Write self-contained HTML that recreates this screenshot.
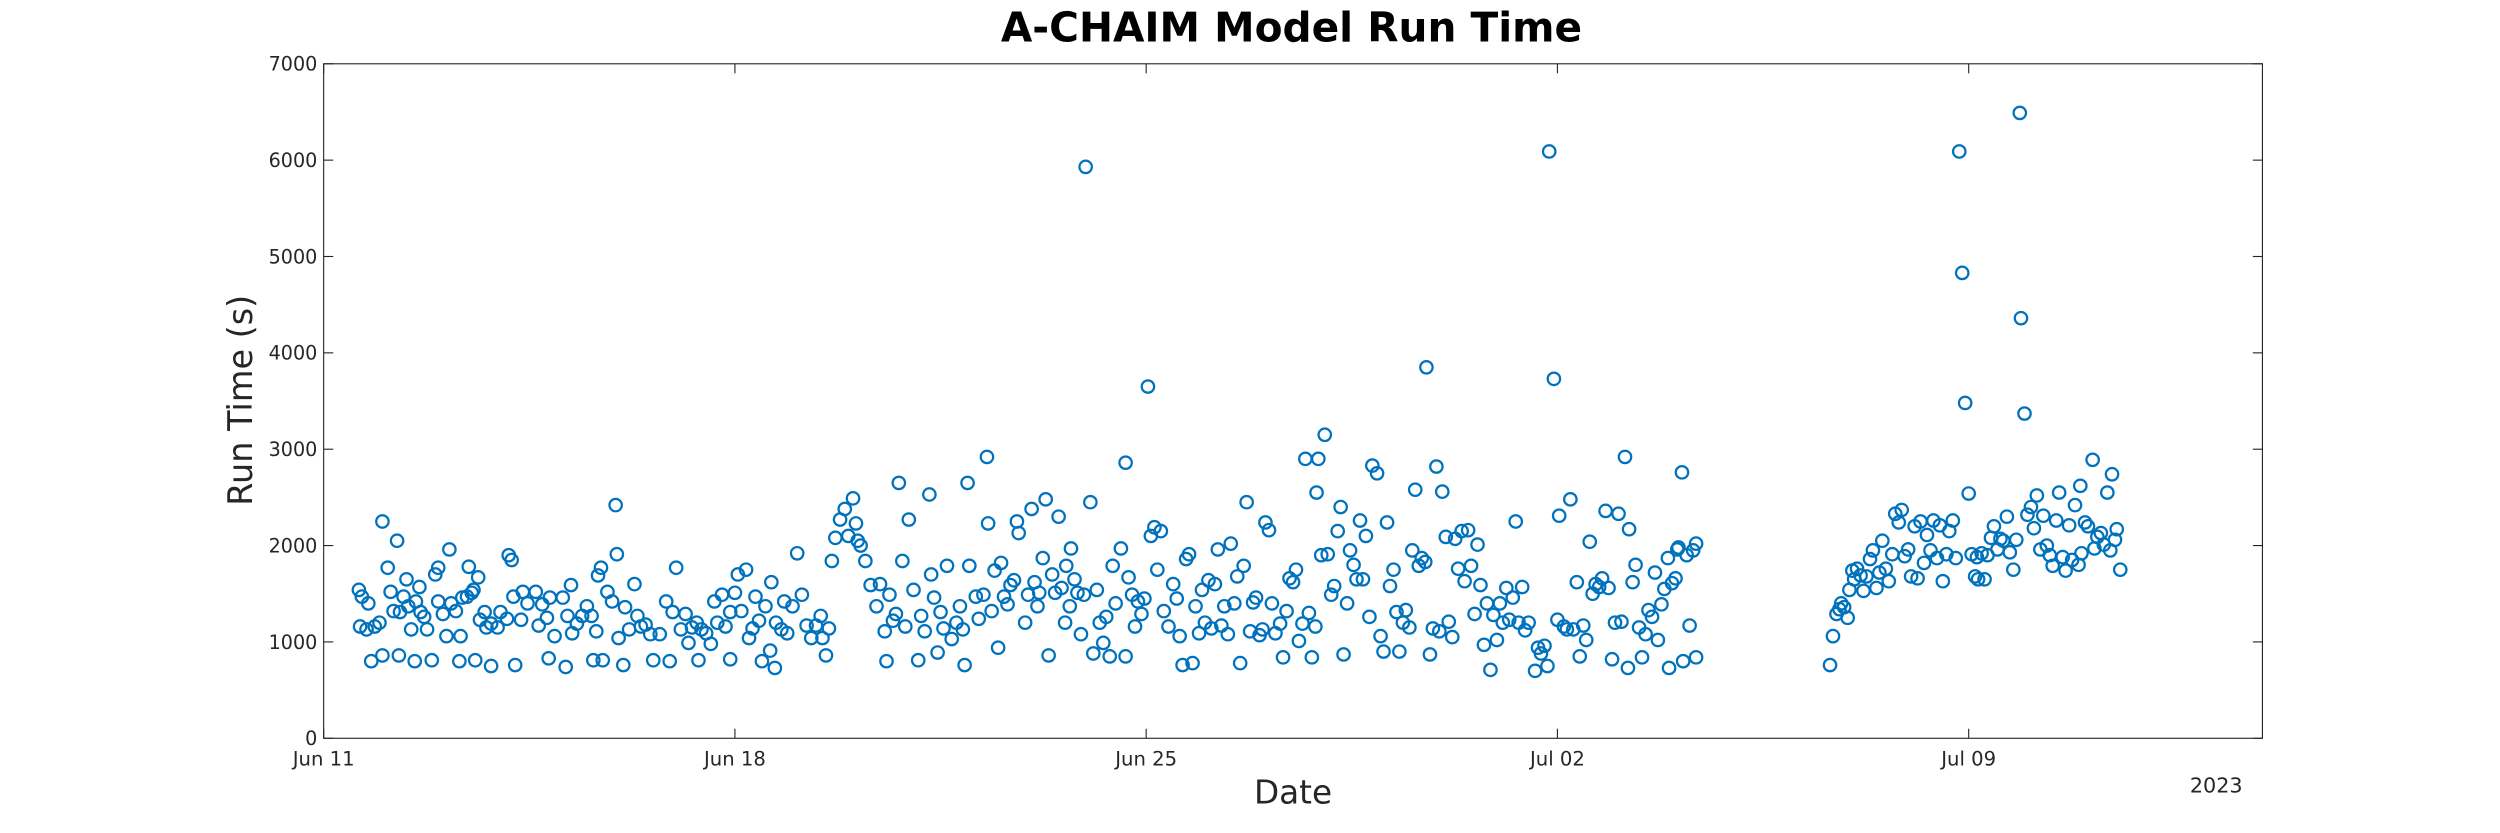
<!DOCTYPE html>
<html><head><meta charset="utf-8"><style>
html,body{margin:0;padding:0;background:#fff}
svg{display:block}
text{font-family:"DejaVu Sans","Liberation Sans",sans-serif;fill:#262626}
</style></head><body>
<svg id="chart" width="2500" height="833" viewBox="0 0 1568 522.4" preserveAspectRatio="none" xmlns="http://www.w3.org/2000/svg">
<rect x="0" y="0" width="1568" height="522.4" fill="#fff"/>
<text x="810" y="26" text-anchor="middle" font-size="25.5" font-weight="bold" style="fill:#000">A-CHAIM Model Run Time</text>
<g id="axes"></g>
<g id="marks"></g>
<text transform="translate(158,251) rotate(-90)" text-anchor="middle" font-size="21">Run Time (s)</text>
<text x="811" y="504" text-anchor="middle" font-size="20.5">Date</text>
<text x="1390" y="497" text-anchor="middle" font-size="13">2023</text>
</svg>
<script>
const xTickLabels = ["Jun 11","Jun 18","Jun 25","Jul 02","Jul 09"];
const xTickDays = [0,7,14,21,28];
const yTicks = [0,1000,2000,3000,4000,5000,6000,7000];
const runDay = [
0.60,0.65,0.76,0.62,0.73,0.87,0.95,0.81,1.00,1.00,1.09,1.25,1.14,1.19,1.30,1.36,1.41,1.28,1.44,1.49,
1.57,1.63,1.65,1.71,1.76,1.55,1.84,1.90,1.95,1.95,2.03,2.09,2.14,2.17,2.25,2.31,2.33,2.36,2.44,2.47,
2.52,2.55,2.58,2.63,2.66,2.74,2.77,2.85,2.85,2.96,3.01,3.12,3.15,3.20,3.23,3.26,3.36,3.39,3.47,3.61,
3.66,3.72,3.80,3.83,3.85,3.93,4.07,4.12,4.15,4.21,4.23,4.31,4.40,4.48,4.56,4.59,4.64,4.67,4.72,4.75,
4.83,4.91,4.97,4.99,5.02,5.10,5.13,5.20,5.29,5.34,5.40,5.48,5.56,5.61,5.72,5.83,5.89,5.94,6.00,6.08,
6.16,6.21,6.27,6.35,6.38,6.43,6.51,6.59,6.65,6.70,6.78,6.84,6.92,6.92,7.00,
7.05,7.11,7.19,7.24,7.30,7.35,7.41,7.46,7.52,7.60,7.62,7.68,7.70,7.79,7.84,7.89,7.98,8.06,8.14,8.22,
8.30,8.38,8.46,8.49,8.55,8.60,8.65,8.71,8.79,8.87,8.93,9.01,9.06,9.09,9.14,9.22,9.31,9.41,9.47,9.55,
9.58,9.63,9.69,9.74,9.79,9.85,9.90,9.96,10.04,10.12,10.17,10.23,10.31,10.34,10.39,10.45,10.50,10.55,10.61,10.69,
10.77,10.83,10.88,10.91,10.96,10.99,11.10,11.15,11.23,11.29,11.31,11.37,11.42,11.48,11.53,11.58,11.64,11.69,11.75,11.80,
11.83,11.94,11.99,12.05,12.10,12.15,12.18,12.24,12.29,12.34,12.40,12.45,12.51,12.56,12.62,12.64,12.70,12.72,12.78,12.83,
12.89,12.94,12.97,13.05,13.10,13.16,13.21,13.27,13.32,13.38,13.43,13.48,13.57,13.65,13.65,13.70,13.76,13.81,13.86,13.92,
13.97,14.03,14.08,14.14,14.19,14.25,14.30,14.38,14.46,14.52,14.57,14.62,14.68,14.73,14.79,14.84,14.90,14.95,15.00,15.06,
15.11,15.17,15.22,15.28,15.33,15.39,15.44,15.50,15.55,15.60,15.66,15.71,15.77,15.82,15.87,15.93,15.98,16.03,16.09,16.14,
16.20,16.28,16.33,16.39,16.44,16.50,16.55,16.60,16.66,16.71,16.77,16.82,16.88,16.90,16.93,16.98,17.04,17.09,17.15,17.20,
17.26,17.31,17.36,17.42,17.47,17.53,17.58,17.64,17.69,17.74,17.80,17.85,17.93,17.99,18.04,18.10,18.15,18.21,18.26,18.31,
18.37,18.42,18.48,18.53,18.58,18.64,18.69,18.75,18.77,18.83,18.88,18.94,18.99,19.04,19.10,19.15,19.21,19.26,19.31,19.37,
19.42,19.48,19.53,19.59,19.64,19.69,19.75,19.80,19.86,19.91,19.97,20.02,20.07,20.13,20.18,20.24,20.29,20.34,20.40,20.45,
20.51,20.62,20.67,20.72,20.78,20.83,20.86,20.94,21.00,
21.03,21.11,21.16,21.22,21.27,21.33,21.38,21.44,21.49,21.55,21.60,21.65,21.71,21.76,21.82,21.87,21.93,21.98,22.04,22.09,
22.15,22.20,22.22,22.28,22.33,22.39,22.44,22.50,22.55,22.61,22.66,22.71,22.77,22.82,22.88,22.90,22.95,23.01,23.04,23.06,
23.12,23.14,23.20,23.25,23.31,23.36,23.36,
25.64,25.69,25.75,25.80,25.83,25.88,25.94,25.97,26.02,26.05,26.10,26.16,26.21,26.26,26.32,26.37,26.43,26.48,26.53,26.59,
26.64,26.70,26.75,26.81,26.86,26.91,26.97,27.02,27.08,27.13,27.18,27.24,27.29,27.35,27.40,27.46,27.51,27.56,27.62,27.67,
27.73,27.78,27.84,27.89,27.94,28.00,28.05,28.11,28.14,28.16,28.22,28.27,28.32,28.38,28.43,28.49,28.54,28.59,28.65,28.70,
28.76,28.81,28.87,28.89,28.95,29.00,29.06,29.11,29.16,29.22,29.27,29.33,29.38,29.43,29.49,29.54,29.60,29.65,29.71,29.76,
29.81,29.87,29.90,29.92,29.98,30.03,30.11,30.14,30.19,30.25,30.30,30.36,30.41,30.44,30.49,30.52,30.58
];
const runTime = [
1540,1470,1400,1160,1130,1160,1200,800,2250,860,1770,2050,1520,1320,1310,1470,1650,860,1370,1130,
1420,1570,1310,1260,1130,800,810,1700,1770,1420,1290,1060,1960,1400,1320,800,1060,1460,1470,1780,
1510,1540,810,1670,1230,1310,1150,1190,750,1150,1310,1240,1900,1850,1470,760,1230,1520,1400,1520,
1170,1390,1250,830,1460,1060,1460,740,1270,1590,1090,1190,1270,1370,1270,810,1110,1690,1770,810,
1520,1420,2420,1910,1040,760,1360,1130,1600,1270,1160,1180,1080,810,1080,1420,800,1310,1770,1130,
1290,990,1150,1200,810,1130,1090,980,1420,1200,1490,1160,1310,820,1510,
1700,1320,1750,1040,1140,1470,1220,800,1370,910,1620,730,1200,1130,1420,1090,1370,1920,1490,1170,
1040,1170,1270,1040,860,1140,1840,2080,2270,2380,2100,2490,2230,2050,2000,1840,1590,1370,1600,1110,
800,1490,1220,1290,2650,1840,1160,2270,1540,810,1270,1110,2530,1700,1460,890,1310,1140,1790,1030,
1200,1370,1130,760,2650,1790,1470,1240,1490,2920,2230,1320,1740,940,1820,1470,1390,1590,1640,2250,
2130,1200,1490,2380,1620,1370,1510,1870,2480,860,1700,1510,2300,1560,1200,1790,1370,1970,1650,1510,
1080,1490,5930,2450,880,1540,1200,990,1260,850,1790,1400,1970,2860,850,1670,1490,1160,1420,1290,
1450,3650,2100,2190,1750,2150,1320,1160,1600,1450,1060,760,1860,1910,780,1370,1090,1540,1200,1640,
1140,1600,1960,1170,1370,1080,2020,1400,1680,780,1790,2450,1110,1410,1460,1070,1130,2240,2160,1400,
1090,1190,840,1320,1660,1620,1750,1010,1190,2900,1300,840,1160,2550,2900,1900,3150,1910,1490,1580,
2150,2400,870,1400,1950,1800,1650,2260,1650,2100,1260,2830,2750,1060,900,2240,1580,1750,1310,900,
1200,1330,1150,1950,2580,1790,1870,1830,3850,870,1140,2820,1110,2560,2090,1210,1050,2070,1760,2150,
1630,2160,1790,1290,2010,1590,970,1400,710,1280,1020,1400,1200,1560,1230,1460,2250,1200,1570,1120,
1200,700,940,880,960,750,6090,3730,1230,
2310,1160,1130,2480,1130,1620,850,1170,1020,2040,1500,1600,1570,1660,2360,1560,820,1200,2330,1210,
2920,730,2170,1620,1800,1150,840,1080,1330,1260,1720,1020,1390,1550,1870,730,1610,1660,1960,1980,
2760,800,1900,1170,1950,2020,840,
760,1060,1290,1340,1400,1360,1250,1540,1740,1650,1760,1690,1530,1680,1860,1950,1560,1720,2050,1760,
1630,1910,2330,2240,2370,1890,1960,1680,2200,1660,2250,1820,2110,1950,2260,1870,2210,1630,1910,2150,
2260,1870,6090,4830,3480,2540,1910,1680,1880,1650,1920,1650,1900,2080,2200,1960,2070,2050,2300,1930,
1750,2060,6490,4360,3370,2320,2400,2180,2520,1960,2310,2000,1900,1790,2260,2550,1880,1740,2210,1850,
2420,1800,2620,1920,2240,2200,2890,1970,2090,2130,2010,2550,1950,2740,2060,2170,1750
];
const NS = "http://www.w3.org/2000/svg";
const X0 = 203, X1 = 1419, Y0 = 463, Y1 = 40;
const DAY_MAX = 33, VAL_MAX = 7000;
function xScale(d){ return X0 + (X1 - X0) * d / DAY_MAX; }
function yScale(v){ return Y0 - (Y0 - Y1) * v / VAL_MAX; }
const axes = document.getElementById('axes');
function mk(tag, attrs, parent){
  const e = document.createElementNS(NS, tag);
  for (const k in attrs) e.setAttribute(k, attrs[k]);
  parent.appendChild(e);
  return e;
}
const frame = mk('rect', {x:X0, y:Y1, width:X1-X0, height:Y0-Y1, fill:'none', stroke:'#262626', 'stroke-width':0.7}, axes);


yTicks.forEach(function(v){
  const y = yScale(v);
  mk('line', {x1:X0, x2:X0+6, y1:y, y2:y, stroke:'#262626', 'stroke-width':0.7}, axes);
  mk('line', {x1:X1, x2:X1-6, y1:y, y2:y, stroke:'#262626', 'stroke-width':0.7}, axes);
  const t = mk('text', {x:X0-4, y:y+4.3, 'text-anchor':'end', 'font-size':12}, axes);
  t.textContent = String(v);
  
  
});
xTickDays.forEach(function(d, i){
  const x = xScale(d);
  mk('line', {x1:x, x2:x, y1:Y0, y2:Y0-6, stroke:'#262626', 'stroke-width':0.7}, axes);
  mk('line', {x1:x, x2:x, y1:Y1, y2:Y1+6, stroke:'#262626', 'stroke-width':0.7}, axes);
  const t = mk('text', {x:x, y:480, 'text-anchor':'middle', 'font-size':12.3}, axes);
  t.textContent = xTickLabels[i];
  
  
});
const marks = document.getElementById('marks');
for (let i = 0; i < runDay.length && i < runTime.length; i++){
  const c = mk('circle', {cx:xScale(runDay[i]), cy:yScale(runTime[i]), r:3.9, fill:'none', stroke:'#0072BD', 'stroke-width':1.4}, marks);
  
  
}
</script>
</body></html>
